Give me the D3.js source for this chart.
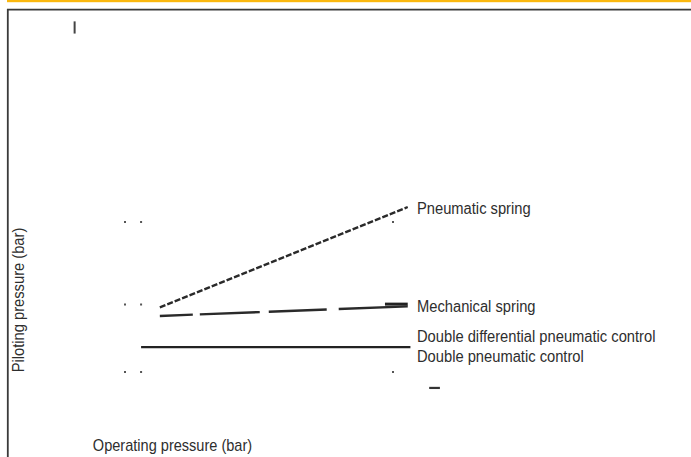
<!DOCTYPE html>
<html>
<head>
<meta charset="utf-8">
<script src="https://cdn.jsdelivr.net/npm/d3@7"></script>
<style>
  html, body { margin: 0; padding: 0; background: #fff; }
  svg { display: block; }
  .lbl { font-family: "Liberation Sans", Arial, sans-serif; font-size: 16px; fill: #2e2e2e; }
</style>
</head>
<body>
<script>
// Operating pressure (bar) on x, piloting pressure (bar) on y
const pneumaticSpring = [
  { op: 1.3, pil: 3.45 },
  { op: 10.55, pil: 8.8 }
];
const mechanicalSpring = [
  { op: 1.3, pil: 2.99 },
  { op: 10.55, pil: 3.5 }
];
const mechanicalSpringEnd = [
  { op: 9.7, pil: 3.62 },
  { op: 10.55, pil: 3.62 }
];
const doubleDifferential = [
  { op: 0.6, pil: 1.33 },
  { op: 10.65, pil: 1.33 }
];
const stubMark = [
  { op: 11.35, pil: -0.85 },
  { op: 11.75, pil: -0.85 }
];
const topMark = [
  { op: -1.88, pil: 18.7 },
  { op: -1.88, pil: 18.05 }
];
const gridDots = [
  { op: 0, pil: 8 }, { op: 0.6, pil: 8 }, { op: 10, pil: 8 },
  { op: 0, pil: 3.6 }, { op: 0.6, pil: 3.6 },
  { op: 0, pil: 0 }, { op: 0.6, pil: 0 }, { op: 10, pil: 0 }
];
const seriesLabels = [
  { text: "Pneumatic spring", pil: 8.45 },
  { text: "Mechanical spring", pil: 3.2 },
  { text: "Double differential pneumatic control", pil: 1.6 },
  { text: "Double pneumatic control", pil: 0.53 }
];
const xTitle = "Operating pressure (bar)";
const yTitle = "Piloting pressure (bar)";

const W = 691, H = 457;
const x = d3.scaleLinear().domain([0, 10]).range([125, 393]);
const y = d3.scaleLinear().domain([0, 8]).range([372, 222]);

const svg = d3.select("body").append("svg").attr("width", W).attr("height", H);

// top accent bar and frame
svg.append("rect").attr("x", 7).attr("y", 0).attr("width", W - 7).attr("height", 2.2).attr("fill", "#FBB80F");
svg.append("path")
  .attr("d", `M7.8,${H} V9.6 H${W}`)
  .attr("fill", "none").attr("stroke", "#3a3a3a").attr("stroke-width", 1.8);

const line = d3.line().x(d => x(d.op)).y(d => y(d.pil));

svg.append("path").datum(topMark).attr("d", line)
  .attr("stroke", "#444").attr("stroke-width", 2).attr("fill", "none");

svg.selectAll("rect.dot").data(gridDots).join("rect").attr("class", "dot")
  .attr("x", d => x(d.op) - 1).attr("y", d => y(d.pil) - 1)
  .attr("width", 2).attr("height", 2).attr("fill", "#555");

svg.append("path").datum(pneumaticSpring).attr("d", line)
  .attr("stroke", "#2a2a2a").attr("stroke-width", 2.4).attr("fill", "none")
  .attr("stroke-dasharray", "6 2");

svg.append("path").datum(mechanicalSpring).attr("d", line)
  .attr("stroke", "#2a2a2a").attr("stroke-width", 2.4).attr("fill", "none")
  .attr("stroke-dasharray", "33 7 60 9 58 12 90");

svg.append("path").datum(mechanicalSpringEnd).attr("d", line)
  .attr("stroke", "#222").attr("stroke-width", 3).attr("fill", "none");

svg.append("path").datum(doubleDifferential).attr("d", line)
  .attr("stroke", "#222").attr("stroke-width", 2.3).attr("fill", "none");

svg.append("path").datum(stubMark).attr("d", line)
  .attr("stroke", "#333").attr("stroke-width", 2.2).attr("fill", "none");

// series labels, condensed
const labelX = 417;
svg.selectAll("text.series").data(seriesLabels).join("text").attr("class", "lbl series")
  .attr("transform", d => `translate(${labelX},${y(d.pil)}) scale(0.92,1)`)
  .text(d => d.text);

svg.append("text").attr("class", "lbl")
  .attr("transform", `translate(172.5,451) scale(0.91,1)`)
  .attr("text-anchor", "middle").text(xTitle);

svg.append("text").attr("class", "lbl")
  .attr("transform", `translate(23.5,300) rotate(-90) scale(0.92,1)`)
  .attr("text-anchor", "middle").text(yTitle);
</script>
</body>
</html>
